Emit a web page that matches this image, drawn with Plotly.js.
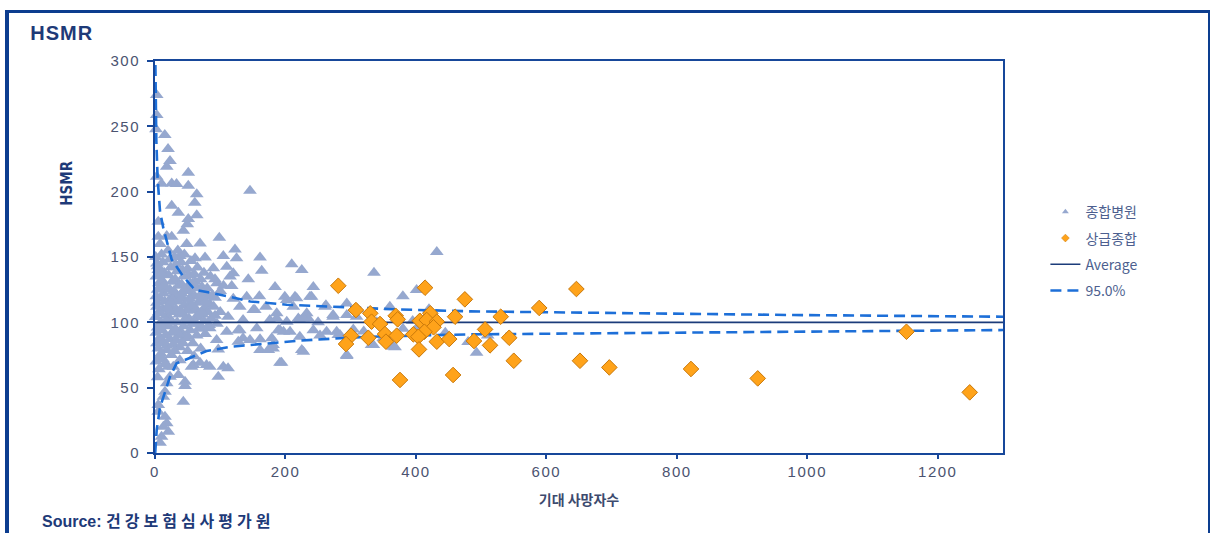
<!DOCTYPE html>
<html>
<head>
<meta charset="utf-8">
<script src="https://cdn.plot.ly/plotly-3.0.1.min.js"></script>
<style>
  html, body { margin: 0; padding: 0; background: #ffffff; }
  #wrap { position: relative; width: 1210px; height: 533px; overflow: hidden; }
  #chart { position: absolute; left: 0; top: 0; width: 1210px; height: 533px; }
  #frame { position: absolute; left: 5px; top: 10px; width: 1199px; height: 540px;
           border-left: 4px solid #0c3d8f; border-top: 3px solid #0c3d8f; border-right: 2px solid #0c3d8f;
           pointer-events: none; }
</style>
</head>
<body>
<div id="wrap"><div id="chart"></div><div id="frame"></div></div>
<script>
// ---- 종합병원 (general hospitals): expected deaths, HSMR ----
const genX = [2.6,2.6,1.5,15,20,23,18,51,2.6,25.6,33,10,51,145.6,64,61,25.6,35.8,64,51,49.5,5,43.4,5,18,25.6,98.6,48.6,69,7.7,122.6,104.7,76.7,125,161,61.3,38,209.6,225,163.6,89.4,110,120,143,92,335.7,184,242.7,117.6,432,401,
140.6,92,150.7,186.6,202,214.6,212,232.6,262,273,294,309,176,202,222,156,191.6,222,242.7,263,281,304,127.7,135,110,84,161,181,161,225,191.6,294,334.7,365,94.5,97,58.8,84,112,97,69,46,46,35.8,18,15.3,12.8,43.4,5,15.3,18,20.4,10,7.7,12.8,5,23,20.4,28,38,7.7,18,
199,240,260.6,217,237.6,153,235,219.7,135,112,186.6,227,197,207,283.6,332,368,401,181,194,493,294,145.6,127.7,173.7,227.4,56,104.7,79,130,189,179,273,294,278.5,253,320,340,310,350,380,420,395,445,480,510,380,360,250,160,170,130,120,100,100,
1,3,5,2,6,4,2,8,3,6,1,9,4,2,7,3,5,10,12,14,11,16,13,15,12,17,14,11,16,13,18,20,22,24,21,26,23,25,22,27,24,21,26,23,28,30,32,34,31,36,33,35,32,37,34,31,36,33,38,40,42,44,41,46,43,45,42,47,44,41,46,43,50,52,54,51,56,53,55,52,57,54,51,58,60,62,64,61,66,63,65,62,67,64,70,72,74,71,76,73,75,72,77,80,82,84,81,86,83,88,90,92,95,2,6,4,9,12,15,25,30,50,60,70,8,19,29,39,48,58,68,78,35,45,55,65,75,85,95,105,115,
3,8,14,19,27,33,41,48,57,66,4,10,17,24,31,38,45,53,62,71];
const genY = [274,258.6,247.7,243.3,232.6,223.4,219,214.5,211.4,206.3,205.8,206,204.5,200.7,198,191.5,189.2,183.9,182,179,175,177,170,165.5,166,165.5,164.7,160,160.4,160,155.8,150.7,149.7,149,149.7,149,150.7,144.4,140,139.5,141.3,142.5,137.5,132.9,133,138,127,127,127.8,153.8,124.7,
119.6,118.8,109.4,106.9,117,119.6,112,106.9,113,105.6,114.5,104.3,101.8,100.5,101.8,95.4,94,89,94,92.8,90.3,94.6,94,87.8,92.8,95.4,87,82.6,78.8,78.8,69,74.2,82.6,81.3,86.5,79.3,67.3,66,64.8,58.4,69,54.6,51.3,59.7,53.3,46.9,43,39.3,31.6,27.8,22.7,16.3,12.5,7.9,20,36.7,58.4,66,66,71,73.7,78.8,
119.6,119.6,112,118.4,119.6,109.4,103,103,101.8,104.3,103,103,92.8,92.8,90.3,82.6,80.9,95.4,80,69,76.7,75,86.5,85.2,78.8,77.5,66,66,67.3,94,94,87.8,104.3,105.6,92.8,90,93,100,110,88,95,110,101,92,85,90,120,112,100,120,112,112,118,108,124,
150,145,140,135,130,125,120,118,112,108,104,100,96,92,88,84,80,152,146,138,132,127,122,116,110,105,99,94,90,85,82,155,148,142,136,131,125,119,113,108,102,97,92,87,83,150,144,139,133,128,121,116,110,106,100,95,90,86,81,146,140,135,129,124,118,113,107,103,97,92,88,84,141,136,130,125,120,114,109,103,99,94,89,84,137,131,126,120,115,110,104,99,95,90,133,127,122,117,111,106,101,96,91,126,120,114,108,103,98,121,112,105,99,70,64,58,76,72,68,75,78,78,74,80,98,111,124,118,109,130,120,116,155,152,147,142,138,135,130,128,135,
115,107,128,98,117,93,122,101,113,106,143,137,101,115,94,109,125,118,100,108];

// ---- 상급종합 (tertiary hospitals): expected deaths, HSMR ----
const terX = [281,414,646,475,589,308,330,369,372,422,460,530,332,345,406,416.5,432,427,413,506,300.5,327,352.6,370.5,396,403.7,543,292.8,354,432,451,489,513.6,404.7,550,651.5,696.5,375.6,457,821.7,924,1152,1249];
const terY = [128,126.5,125.5,117.6,111,109.4,106.9,105,102.3,106.9,104.3,104.3,100.5,98.7,101.2,101.8,100.5,96.2,92.8,94.6,89.8,88.2,91,89.8,90.8,89,88.2,83.4,85.2,85.2,87.2,85.7,82.4,79.3,70.6,70.6,65.5,55.9,59.7,64.3,57.1,92.8,46.4];

// ---- Average line ----
const avgX = [0, 1300];
const avgY = [100, 100];

// ---- 95.0% control limits ----
const upX = [0.3,1,2,4,7.7,12.8,20.4,25.6,43.4,61,115,146,202,284,365,483,652,979,1300];
const upY = [310,270,240,210,185,172,158,148,135,125,119.6,116,113.5,111.5,110,108.4,107.3,105.6,104.3];
const loX = [0.3,2.6,7.7,23,33,79,115,161,222,284,330,483,652,979,1300];
const loY = [0,17.6,35,58.4,68.6,78,81.3,83.5,86,87.8,89,90.8,91.6,92.8,94.1];

const xTicks = [0,200,400,600,800,1000,1200];
const yTicks = [0,50,100,150,200,250,300];

const triColor = '#96a8cf';
const diaColor = '#ffa31a';
const navy = '#1c3c7a';
const dashBlue = '#1d6fd8';
const spaced = v => '<span style="letter-spacing:1.5px">' + v + '</span>';

const traces = [
  {x: genX, y: genY, type: 'scatter', mode: 'markers', name: '종합병원', showlegend: false, cliponaxis: false,
   marker: {symbol: 'triangle-up', size: 12, color: triColor}},
  {x: avgX, y: avgY, type: 'scatter', mode: 'lines', name: 'Average', showlegend: false,
   line: {color: navy, width: 1.6}},
  {x: upX, y: upY, type: 'scatter', mode: 'lines', name: '95.0%', showlegend: false,
   line: {color: dashBlue, width: 2.6, dash: '11px,6px'}},
  {x: loX, y: loY, type: 'scatter', mode: 'lines', name: '95.0%', showlegend: false,
   line: {color: dashBlue, width: 2.6, dash: '11px,6px'}},
  {x: terX, y: terY, type: 'scatter', mode: 'markers', name: '상급종합', showlegend: false, cliponaxis: false,
   marker: {symbol: 'diamond', size: 12, color: diaColor, line: {color: '#c9780a', width: 1}}},
  {x: [null], y: [null], type: 'scatter', mode: 'markers', name: '종합병원', legendgroup: 'a', legendrank: 1,
   marker: {symbol: 'triangle-up', size: 6, color: triColor}},
  {x: [null], y: [null], type: 'scatter', mode: 'markers', name: '상급종합', legendgroup: 'b', legendrank: 2,
   marker: {symbol: 'diamond', size: 6, color: diaColor, line: {color: '#c9780a', width: 0.5}}},
  {x: [null], y: [null], type: 'scatter', mode: 'lines', name: 'Average', legendgroup: 'c', legendrank: 3,
   line: {color: navy, width: 1.6}},
  {x: [null], y: [null], type: 'scatter', mode: 'lines', name: '95.0%', legendgroup: 'd', legendrank: 4,
   line: {color: dashBlue, width: 2.6, dash: '11px,6px'}}
];

const layout = {
  width: 1210, height: 533,
  margin: {l: 155, r: 207, t: 61, b: 80, pad: 0},
  paper_bgcolor: '#ffffff', plot_bgcolor: '#ffffff',
  font: {family: 'Liberation Sans, Arial, sans-serif', color: '#4b5370', size: 14},
  title: {text: '<b><span style="letter-spacing:1px">HSMR</span></b>', x: 0.025, xanchor: 'left', xref: 'container', y: 0.938, yanchor: 'middle', yref: 'container',
          font: {family: 'Liberation Sans, Arial, sans-serif', size: 20, color: '#1e3a78'}},
  showlegend: true,
  legend: {x: 1.05, xanchor: 'left', y: 0.655, yanchor: 'top', bgcolor: 'rgba(0,0,0,0)',
           tracegroupgap: 5, traceorder: 'grouped',
           font: {family: 'Noto Sans CJK KR, Liberation Sans, sans-serif', size: 14, color: '#4d5f8f'}},
  xaxis: {range: [0, 1300], tickvals: xTicks, ticktext: xTicks.map(spaced), showgrid: false, zeroline: false,
          showline: true, mirror: true, linecolor: '#17479a', linewidth: 2,
          ticks: 'outside', ticklen: 4, tickwidth: 2, tickcolor: '#17479a',
          tickfont: {family: 'Liberation Sans, Arial, sans-serif', size: 15, color: '#4b5370'},
          title: {text: '<b>기대 사망자수</b>', standoff: 16,
                  font: {family: 'Noto Sans CJK KR, sans-serif', size: 14, color: '#3c4a6e'}}},
  yaxis: {range: [0, 300], tickvals: yTicks, ticktext: yTicks.map(spaced), showgrid: false, zeroline: false,
          showline: true, mirror: true, linecolor: '#17479a', linewidth: 2,
          ticks: 'outside', ticklen: 6, tickwidth: 2, tickcolor: '#17479a', ticklabelstandoff: 4,
          tickfont: {family: 'Liberation Sans, Arial, sans-serif', size: 15, color: '#4b5370'}},
  annotations: [
    {text: '<b>HSMR</b>', xref: 'paper', yref: 'paper', x: -0.104, y: 0.689, textangle: -90,
     xanchor: 'center', yanchor: 'middle', showarrow: false,
     font: {family: 'Liberation Sans Narrow, DejaVu Sans Condensed, sans-serif', size: 15, color: '#1e3a78'}},
    {text: '<b>Source: <span style="letter-spacing:4px">건강보험심사평가원</span></b>', xref: 'paper', yref: 'paper',
     x: -0.1356, y: -0.176, xanchor: 'left', yanchor: 'middle', showarrow: false,
     font: {family: 'Liberation Sans, Noto Sans CJK KR, sans-serif', size: 16, color: '#1e3a78'}}
  ]
};

Plotly.newPlot('chart', traces, layout, {displayModeBar: false, staticPlot: true});
</script>
</body>
</html>
